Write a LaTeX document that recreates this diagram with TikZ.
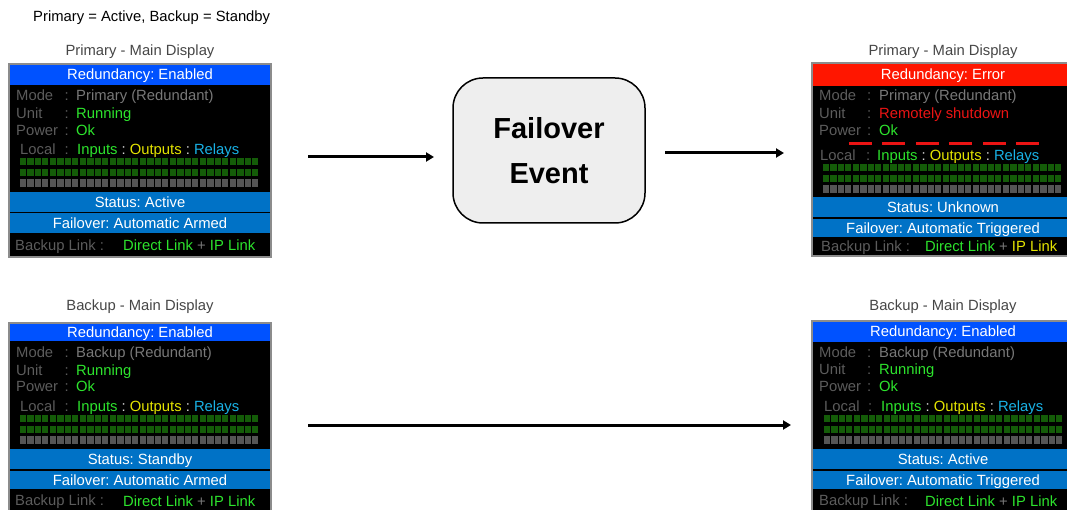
\documentclass[tikz,border=0pt]{standalone}
\usepackage{fontspec}
\setmainfont{Liberation Sans}
\usetikzlibrary{arrows.meta}
\definecolor{hdrblue}{RGB}{0,82,255}
\definecolor{hdrred}{RGB}{255,22,0}
\definecolor{bandblue}{RGB}{0,114,198}
\definecolor{lblgrey}{RGB}{92,92,92}
\definecolor{valgrey}{RGB}{120,120,120}
\definecolor{okgreen}{RGB}{45,228,45}
\definecolor{outyellow}{RGB}{228,228,0}
\definecolor{relcyan}{RGB}{25,178,230}
\definecolor{errred}{RGB}{235,20,20}
\definecolor{ledgreen}{RGB}{20,92,8}
\definecolor{ledgrey}{RGB}{85,85,85}
\definecolor{panelframe}{RGB}{140,140,140}
\definecolor{evfill}{RGB}{238,238,238}
\definecolor{sepgrey}{RGB}{215,215,215}
\definecolor{titlegrey}{RGB}{70,70,70}
\newcommand{\ledgrid}[2]{%
  \foreach \r/\c in {0/ledgreen,1/ledgreen,2/ledgrey}{%
    \foreach \g in {0,...,7}{%
      \foreach \s in {0,...,3}{%
        \fill[\c] ({#1+\g*30+\s*7.3},{#2+\r*10.7}) rectangle ++(6.4,7.3);
      }}}}
\begin{document}
\frenchspacing
\begin{tikzpicture}[x=1pt,y=-1pt,
  txt/.style={inner sep=0pt, text height=10.4pt, text depth=0pt, font=\fontsize{14.8}{17}\selectfont\frenchspacing},
  lbl/.style={txt, anchor=west, text=lblgrey},
  val/.style={txt, anchor=west},
  band/.style={txt, anchor=center, text=white},
  paneltitle/.style={txt, anchor=center, text=titlegrey},
  flow/.style={line width=3pt, -{Triangle[length=8pt,width=9pt]}},
  evbox/.style={draw=black, line width=1.5pt, fill=evfill, rounded corners=30pt,
    minimum width=192pt, minimum height=145pt, align=center,
    font=\fontsize{29}{45}\selectfont\bfseries}
]
\useasboundingbox (0,0) rectangle (1067,510);
\clip (0,0) rectangle (1067,510);

\node[txt, anchor=west, text=black] (legend) at (33,16) {Primary = Active, Backup = Standby};

% ---------- Panel A: top-left ----------
\node[paneltitle] (a-t) at (140,50) {Primary - Main Display};
\fill[black] (9,64) rectangle (271,257);
\fill[hdrblue] (9,64) rectangle (271,85);
\fill[bandblue] (9,192) rectangle (271,212);
\fill[bandblue] (9,213.5) rectangle (271,233);
\ledgrid{20}{158}
\draw[panelframe, line width=1.5pt] (9,64) rectangle (271,257);
\node[band] (a-red) at (140,74.5) {Redundancy: Enabled};
\node[lbl] (a-ml) at (16,95) {Mode};
\node[lbl] (a-mc) at (64.5,95) {:};
\node[val, text=valgrey] (a-mv) at (76,95) {Primary (Redundant)};
\node[lbl] (a-ul) at (16,113) {Unit};
\node[lbl] (a-uc) at (64.5,113) {:};
\node[val, text=okgreen] (a-uv) at (76,113) {Running};
\node[lbl] (a-pl) at (16,130) {Power};
\node[lbl] (a-pc) at (64.5,130) {:};
\node[val, text=okgreen] (a-pv) at (76,130) {Ok};
\node[lbl] (a-ll) at (20,149) {Local};
\node[lbl] (a-lc) at (64.5,149) {:};
\node[val] (a-lv) at (77,149) {\textcolor{okgreen}{Inputs} \textcolor{sepgrey}{:} \textcolor{outyellow}{Outputs} \textcolor{sepgrey}{:} \textcolor{relcyan}{Relays}};
\node[band] (a-st) at (140,202) {Status: Active};
\node[band] (a-fo) at (140,223.2) {Failover: Automatic Armed};
\node[lbl] (a-bl) at (15,245) {Backup Link :};
\node[val] (a-bv) at (123,245) {\textcolor{okgreen}{Direct Link} \textcolor{valgrey}{+} \textcolor{okgreen}{IP Link}};

% ---------- Panel B: top-right ----------
\node[paneltitle] (b-t) at (943,50) {Primary - Main Display};
\fill[black] (812,63) rectangle (1074,256);
\fill[hdrred] (812,63) rectangle (1074,86);
\fill[bandblue] (812,197) rectangle (1074,217);
\fill[bandblue] (812,219) rectangle (1074,237);
\foreach \i in {0,...,5}{\fill[errred] ({849+\i*33.4},142.5) rectangle ++(23,3);}
\ledgrid{823}{164}
\draw[panelframe, line width=1.5pt] (812,63) rectangle (1074,256);
\node[band] (b-red) at (943,74.5) {Redundancy: Error};
\node[lbl] (b-ml) at (819,95) {Mode};
\node[lbl] (b-mc) at (867,95) {:};
\node[val, text=valgrey] (b-mv) at (879,95) {Primary (Redundant)};
\node[lbl] (b-ul) at (819,113) {Unit};
\node[lbl] (b-uc) at (867,113) {:};
\node[val, text=errred] (b-uv) at (879,113) {Remotely shutdown};
\node[lbl] (b-pl) at (819,130) {Power};
\node[lbl] (b-pc) at (867,130) {:};
\node[val, text=okgreen] (b-pv) at (879,130) {Ok};
\node[lbl] (b-ll) at (820,155) {Local};
\node[lbl] (b-lc) at (866,155) {:};
\node[val] (b-lv) at (877,155) {\textcolor{okgreen}{Inputs} \textcolor{sepgrey}{:} \textcolor{outyellow}{Outputs} \textcolor{sepgrey}{:} \textcolor{relcyan}{Relays}};
\node[band] (b-st) at (943,207) {Status: Unknown};
\node[band] (b-fo) at (943,228) {Failover: Automatic Triggered};
\node[lbl] (b-bl) at (821,246) {Backup Link :};
\node[val] (b-bv) at (925,246) {\textcolor{okgreen}{Direct Link} \textcolor{valgrey}{+} \textcolor{outyellow}{IP Link}};

% ---------- Panel C: bottom-left ----------
\node[paneltitle] (c-t) at (140,305) {Backup - Main Display};
\fill[black] (9,323) rectangle (271,516);
\fill[hdrblue] (9,323) rectangle (271,341);
\fill[bandblue] (9,449) rectangle (271,469);
\fill[bandblue] (9,470.5) rectangle (271,489);
\ledgrid{20}{415}
\draw[panelframe, line width=1.5pt] (9,323) rectangle (271,516);
\node[band] (c-red) at (140,332) {Redundancy: Enabled};
\node[lbl] (c-ml) at (16,352) {Mode};
\node[lbl] (c-mc) at (64.5,352) {:};
\node[val, text=valgrey] (c-mv) at (76,352) {Backup (Redundant)};
\node[lbl] (c-ul) at (16,370) {Unit};
\node[lbl] (c-uc) at (64.5,370) {:};
\node[val, text=okgreen] (c-uv) at (76,370) {Running};
\node[lbl] (c-pl) at (16,386) {Power};
\node[lbl] (c-pc) at (64.5,386) {:};
\node[val, text=okgreen] (c-pv) at (76,386) {Ok};
\node[lbl] (c-ll) at (20,406) {Local};
\node[lbl] (c-lc) at (64.5,406) {:};
\node[val] (c-lv) at (77,406) {\textcolor{okgreen}{Inputs} \textcolor{sepgrey}{:} \textcolor{outyellow}{Outputs} \textcolor{sepgrey}{:} \textcolor{relcyan}{Relays}};
\node[band] (c-st) at (140,459) {Status: Standby};
\node[band] (c-fo) at (140,480) {Failover: Automatic Armed};
\node[lbl] (c-bl) at (15,500) {Backup Link :};
\node[val] (c-bv) at (123,501) {\textcolor{okgreen}{Direct Link} \textcolor{valgrey}{+} \textcolor{okgreen}{IP Link}};

% ---------- Panel D: bottom-right ----------
\node[paneltitle] (d-t) at (943,305) {Backup - Main Display};
\fill[black] (812,321) rectangle (1074,516);
\fill[hdrblue] (812,321) rectangle (1074,342);
\fill[bandblue] (812,449) rectangle (1074,468.5);
\fill[bandblue] (812,470.5) rectangle (1074,489);
\ledgrid{824}{415}
\draw[panelframe, line width=1.5pt] (812,321) rectangle (1074,516);
\node[band] (d-red) at (943,331.5) {Redundancy: Enabled};
\node[lbl] (d-ml) at (819,352) {Mode};
\node[lbl] (d-mc) at (867,352) {:};
\node[val, text=valgrey] (d-mv) at (879,352) {Backup (Redundant)};
\node[lbl] (d-ul) at (819,369) {Unit};
\node[lbl] (d-uc) at (867,369) {:};
\node[val, text=okgreen] (d-uv) at (879,369) {Running};
\node[lbl] (d-pl) at (819,386) {Power};
\node[lbl] (d-pc) at (867,386) {:};
\node[val, text=okgreen] (d-pv) at (879,386) {Ok};
\node[lbl] (d-ll) at (824,406) {Local};
\node[lbl] (d-lc) at (868,406) {:};
\node[val] (d-lv) at (881,406) {\textcolor{okgreen}{Inputs} \textcolor{sepgrey}{:} \textcolor{outyellow}{Outputs} \textcolor{sepgrey}{:} \textcolor{relcyan}{Relays}};
\node[band] (d-st) at (943,459) {Status: Active};
\node[band] (d-fo) at (943,480) {Failover: Automatic Triggered};
\node[lbl] (d-bl) at (819,500) {Backup Link :};
\node[val] (d-bv) at (925,501) {\textcolor{okgreen}{Direct Link} \textcolor{valgrey}{+} \textcolor{okgreen}{IP Link}};

% ---------- Failover event and arrows ----------
\node[evbox] (fe) at (549,150.5) {\raisebox{-2pt}{Failover}\\\raisebox{-2pt}{Event}};
\coordinate (a1s) at (308,157);
\coordinate (a1e) at (434,157);
\coordinate (a2s) at (665,153);
\coordinate (a2e) at (784,153);
\coordinate (a3s) at (308,425);
\coordinate (a3e) at (791,425);
\draw[flow] (a1s) -- (a1e);
\draw[flow] (a2s) -- (a2e);
\draw[flow] (a3s) -- (a3e);
\end{tikzpicture}
\end{document}
